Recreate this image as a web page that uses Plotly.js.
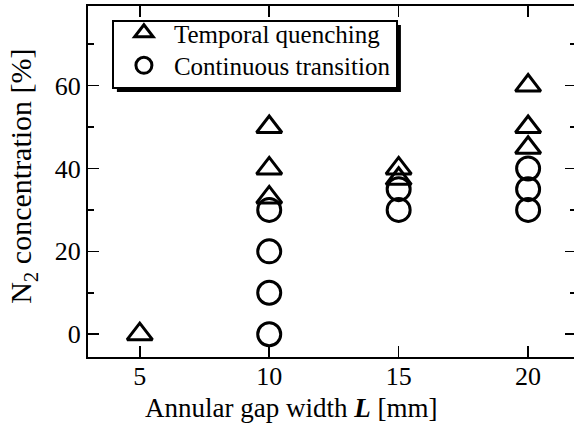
<!DOCTYPE html>
<html><head><meta charset="utf-8">
<script src="https://cdn.plot.ly/plotly-3.0.1.min.js"></script>
<style>html,body{margin:0;padding:0;overflow:hidden;background:#fff}</style>
</head><body><div id="chart"></div>
<script>
// Data
const tqX = [5, 10, 10, 10, 15, 15, 20, 20, 20];
const tqY = [0, 50, 40, 33, 40, 37.5, 60, 50, 45];
const ctX = [10, 10, 10, 10, 15, 15, 20, 20, 20];
const ctY = [30, 20, 10, 0, 35, 30, 40, 35, 30];
const xTicks = [5, 10, 15, 20];
const yTicks = [0, 20, 40, 60];
const yMinor = [10, 30, 50, 70];
const seriesNames = ['Temporal quenching', 'Continuous transition'];
const xTitle = 'Annular gap width <b><i>L</i></b> [mm]';
const yTitle = 'N<sub>2</sub> concentration [%]';

const FONT = '"Liberation Serif", "Times New Roman", Times, serif';

const traces = [
  {x: tqX, y: tqY, name: seriesNames[0], type: 'scatter', mode: 'markers', cliponaxis: false,
   marker: {symbol: 'triangle-up-open', size: 22, color: '#000', line: {width: 3, color: '#000'}}},
  {x: ctX, y: ctY, name: seriesNames[1], type: 'scatter', mode: 'markers', cliponaxis: false,
   marker: {symbol: 'circle-open', size: 23, color: '#000', line: {width: 3, color: '#000'}}}
];

const axisCommon = {
  ticks: 'inside', ticklen: 11, tickwidth: 1.5, tickcolor: '#000',
  showline: true, linewidth: 2, linecolor: '#000', mirror: 'ticks',
  showgrid: false, zeroline: false,
  tickfont: {family: FONT, size: 26, color: '#000'}
};

const layout = {
  width: 578, height: 428,
  margin: {l: 88, r: 2, t: 6, b: 71},
  paper_bgcolor: '#fff', plot_bgcolor: '#fff',
  font: {family: FONT, size: 26, color: '#000'},
  showlegend: true,
  legend: {x: 0.049, y: 0.96, xanchor: 'left', yanchor: 'top',
    bgcolor: '#fff', bordercolor: '#000', borderwidth: 2,
    font: {family: FONT, size: 25, color: '#000'}, itemwidth: 50, tracegroupgap: 0},
  xaxis: Object.assign({}, axisCommon, {
    range: [3, 21.85], tickmode: 'array', tickvals: xTicks, ticktext: xTicks.map(String),
    ticklabelstandoff: -5
  }),
  yaxis: Object.assign({}, axisCommon, {
    range: [-5.5, 79.2], tickmode: 'array', tickvals: yTicks, ticktext: yTicks.map(String),
    minor: {tickmode: 'array', tickvals: yMinor, ticks: 'inside', ticklen: 6, tickwidth: 1.5, tickcolor: '#000'}
  }),
  annotations: [
    {text: xTitle, xref: 'paper', yref: 'paper', x: 0.416, y: -0.145, xanchor: 'center', yanchor: 'middle',
     showarrow: false, font: {family: FONT, size: 27, color: '#000'}},
    {text: yTitle, xref: 'paper', yref: 'paper', x: -0.132, y: 0.515, xanchor: 'center', yanchor: 'middle',
     textangle: -90, showarrow: false, font: {family: FONT, size: 30, color: '#000'}}
  ]
};

const ROW_SHIFT = [12, 15];
const BOX_SHRINK = 16;

function tweakLegend(gd) {
  const bg = gd.querySelector('.legend .bg');
  bg.setAttribute('height', parseFloat(bg.getAttribute('height')) - BOX_SHRINK);
  gd.querySelectorAll('.legend .traces').forEach(function (g, i) {
    const t = g.getAttribute('transform') || '';
    const m = /translate\(\s*([-\d.e]+)[ ,]+([-\d.e]+)\s*\)/.exec(t);
    if (m) g.setAttribute('transform', 'translate(' + m[1] + ',' + (parseFloat(m[2]) - (ROW_SHIFT[i] || 0)) + ')');
  });
  gd.querySelectorAll('.legend .scatterpts path').forEach(function (p) {
    const t = p.getAttribute('transform') || '';
    if (t.indexOf('scale') < 0) p.setAttribute('transform', t + ' scale(1.45)');
    p.style.vectorEffect = 'non-scaling-stroke';
  });
}

Plotly.newPlot('chart', traces, layout, {staticPlot: true}).then(function (gd) {
  const bg = gd.querySelector('.legend .bg');
  const r = bg.getBoundingClientRect();
  const s = gd._fullLayout._size;
  const off = 4;
  const x0 = (r.left + off - s.l) / s.w, x1 = (r.right + off - s.l) / s.w;
  const y0 = 1 - (r.bottom - BOX_SHRINK + off - s.t) / s.h, y1 = 1 - (r.top + off - s.t) / s.h;
  return Plotly.relayout(gd, {shapes: [{type: 'rect', xref: 'paper', yref: 'paper',
    x0: x0, x1: x1, y0: y0, y1: y1, fillcolor: '#000', line: {width: 0}, layer: 'above'}]});
}).then(tweakLegend);
</script>
</body></html>
